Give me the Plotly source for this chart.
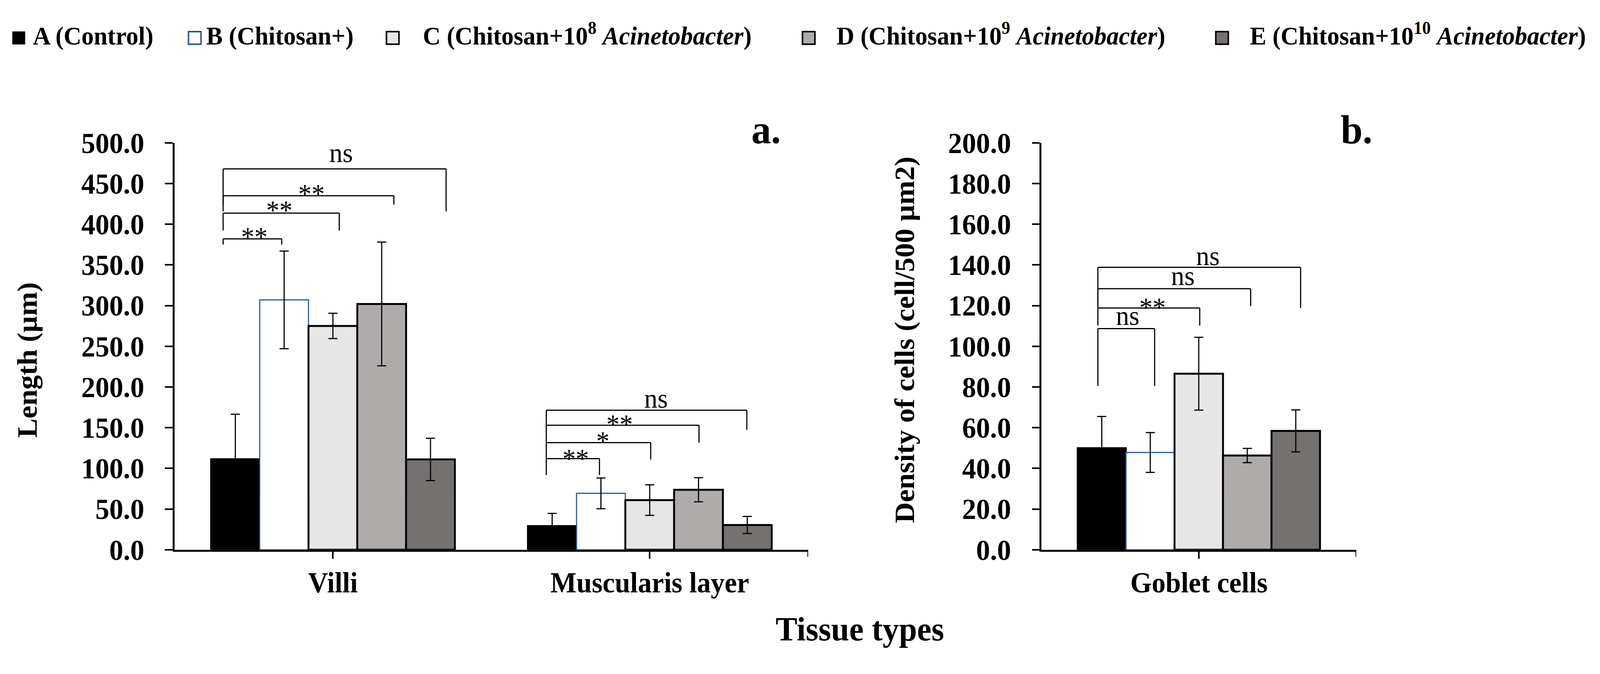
import plotly.graph_objects as go

W, H = 4227, 1726
FONT = "Liberation Serif"

# data
tissue_a = ["Villi", "Muscularis layer"]
tissue_b = ["Goblet cells"]
group_names = [
    "A (Control)",
    "B (Chitosan+)",
    "C (Chitosan+10<sup>8</sup> <i>Acinetobacter</i>)",
    "D (Chitosan+10<sup>9</sup> <i>Acinetobacter</i>)",
    "E (Chitosan+10<sup>10</sup> <i>Acinetobacter</i>)",
]
villi_mean = [111.5, 307.0, 275.0, 302.0, 111.0]
villi_err = [55.0, 60.0, 15.5, 76.0, 26.0]
musc_mean = [29.3, 69.3, 61.0, 73.7, 30.4]
musc_err = [15.3, 18.9, 18.8, 14.8, 10.5]
goblet_mean = [50.0, 47.8, 86.5, 46.3, 58.4]
goblet_err = [15.5, 9.8, 17.9, 3.5, 10.3]

villi_sig = ["**", "**", "**", "ns"]
musc_sig = ["**", "*", "**", "ns"]
goblet_sig = ["ns", "**", "ns", "ns"]

fills = ["#000000", "#FFFFFF", "#E7E6E6", "#AFABAB", "#767171"]
edges = ["#000000", "#2F5597", "#000000", "#000000", "#000000"]
edge_w = [4, 3, 5, 5, 5]

BARGAP = 0.23
BW = (1 - BARGAP) / 5

fig = go.Figure()
for i in range(5):
    common = dict(
        name=group_names[i],
        showlegend=False,
        marker=dict(color=fills[i], line=dict(color=edges[i], width=edge_w[i])),
    )
    fig.add_bar(
        x=tissue_a, y=[villi_mean[i], musc_mean[i]],
        error_y=dict(type="data", array=[villi_err[i], musc_err[i]],
                     color="black", thickness=3, width=12),
        xaxis="x", yaxis="y", **common)
    fig.add_bar(
        x=tissue_b, y=[goblet_mean[i]],
        error_y=dict(type="data", array=[goblet_err[i]],
                     color="black", thickness=3, width=12),
        xaxis="x2", yaxis="y2", **common)

shapes = []
annotations = []


def line(xr, yr, x0, y0, x1, y1, w=3):
    shapes.append(dict(type="line", xref=xr, yref=yr, x0=x0, y0=y0, x1=x1, y1=y1,
                       line=dict(color="black", width=w)))


def brackets(xr, yr, cat, left, rights, tops, feet, labels, text_x, text_y):
    for r, top, foot, lab, tx, ty in zip(rights, tops, feet, labels, text_x, text_y):
        xl, xrr = cat + left * BW, cat + r * BW
        line(xr, yr, xl, foot, xl, top)
        line(xr, yr, xl, top, xrr, top)
        line(xr, yr, xrr, top, xrr, foot)
        annotations.append(dict(
            xref=xr, yref=yr, x=cat + tx * BW, y=ty, text=lab, showarrow=False,
            xanchor="center", yanchor="middle",
            yshift=8 if lab == "ns" else -14,
            font=dict(family=FONT, size=70, color="black")))


brackets("x", "y", 0, -2.25, [-1.05, 0.13, 1.25, 2.32],
         [382, 413.6, 435, 468], [375, 392.4, 424, 415.8], villi_sig,
         [-1.61, -1.10, -0.44, 0.17], [391, 424, 444, 484])
brackets("x", "y", 1, -2.12, [-1.03, 0.02, 1.01, 1.99],
         [111.9, 131.6, 153.0, 171.4], [91.8, 110.8, 131.6, 147.4], musc_sig,
         [-1.52, -0.96, -0.62, 0.13], [118.5, 140.4, 161.1, 181.9])
brackets("x2", "y2", 0, -2.08, [-0.91, 0.02, 1.07, 2.10],
         [108.7, 118.8, 128.3, 138.8], [80.5, 110.2, 119.8, 118.8], goblet_sig,
         [-1.47, -0.95, -0.33, 0.19], [113.5, 121.8, 133, 142.9])

# end tick on each category axis
shapes.append(dict(type="line", xref="x", yref="y domain", x0=1.5, x1=1.5, y0=0, y1=-0.017,
                   line=dict(color="black", width=4)))
shapes.append(dict(type="line", xref="x2", yref="y2 domain", x0=0.5, x1=0.5, y0=0, y1=-0.017,
                   line=dict(color="black", width=4)))

# category names under the axes
for xr, cats in (("x", tissue_a), ("x2", tissue_b)):
    for c in cats:
        annotations.append(dict(xref=xr, yref="paper", x=c, y=1 - 1525 / H,
                                text="<b>" + c + "</b>", showarrow=False,
                                xanchor="center", yanchor="middle",
                                font=dict(family=FONT, size=73, color="black")))

# legend drawn by hand so the swatches are the same size as the original
leg_box_x = [33, 498, 1021, 2120, 3212]
leg_text_x = [85, 543, 1115, 2208, 3300]
for i in range(5):
    x0 = leg_box_x[i]
    shapes.append(dict(type="rect", xref="paper", yref="paper",
                       x0=x0 / W, x1=(x0 + 33) / W, y0=1 - 77 / H, y1=1 - 43 / H,
                       fillcolor=fills[i],
                       line=dict(color=edges[i], width=4 if i else 1)))
    # anchored at the bottom so the superscripts do not push the baseline down
    annotations.append(dict(xref="paper", yref="paper", x=leg_text_x[i] / W, y=1 - 94 / H,
                            text="<b>" + group_names[i] + "</b>", showarrow=False,
                            xanchor="left", yanchor="bottom",
                            font=dict(family=FONT, size=65, color="black")))

annotations += [
    dict(xref="paper", yref="paper", x=72 / W, y=1 - 926 / H, text="<b>Length (µm)</b>",
         textangle=-90, showarrow=False, xanchor="center", yanchor="middle",
         font=dict(family=FONT, size=74, color="black")),
    dict(xref="paper", yref="paper", x=2389 / W, y=1 - 872 / H,
         text="<b>Density of cells (cell/500 µm2)</b>",
         textangle=-90, showarrow=False, xanchor="center", yanchor="middle",
         font=dict(family=FONT, size=74, color="black")),
    dict(xref="paper", yref="paper", x=2271 / W, y=1 - 1649 / H, text="<b>Tissue types</b>",
         showarrow=False, xanchor="center", yanchor="middle",
         font=dict(family=FONT, size=86, color="black")),
    dict(xref="paper", yref="paper", x=1983 / W, y=1 - 306 / H, text="<b>a.</b>",
         xanchor="left", yanchor="middle", showarrow=False,
         font=dict(family=FONT, size=104, color="black")),
    dict(xref="paper", yref="paper", x=3540 / W, y=1 - 306 / H, text="<b>b.</b>",
         xanchor="left", yanchor="middle", showarrow=False,
         font=dict(family=FONT, size=104, color="black")),
]

bold = dict(family=FONT, color="black", weight="bold")
y_dom = [1 - 1436 / H, 1 - 342 / H]
axis_common = dict(showline=True, linecolor="black", linewidth=5, ticks="outside",
                   tickcolor="black", tickwidth=4, showgrid=False, zeroline=False)

fig.update_layout(
    width=W, height=H,
    margin=dict(l=0, r=0, t=0, b=0),
    paper_bgcolor="white", plot_bgcolor="white",
    barmode="group", bargap=BARGAP, bargroupgap=0,
    xaxis=dict(domain=[461 / W, 2135 / W], anchor="y", type="category",
               range=[-0.5, 1.5], ticklen=18, showticklabels=False, **axis_common),
    yaxis=dict(domain=y_dom, anchor="x", range=[0, 500], dtick=50, tickformat=".1f",
               ticklen=20, ticklabelstandoff=40, tickfont=dict(size=74, **bold),
               **axis_common),
    xaxis2=dict(domain=[2751 / W, 3583 / W], anchor="y2", type="category",
                range=[-0.5, 0.5], ticklen=18, showticklabels=False, **axis_common),
    yaxis2=dict(domain=y_dom, anchor="x2", range=[0, 200], dtick=20, tickformat=".1f",
                ticklen=20, ticklabelstandoff=40, tickfont=dict(size=74, **bold),
                **axis_common),
    shapes=shapes,
    annotations=annotations,
)

# drop the page margin and fit the fixed-size figure into whatever window opens it
fit_page = """
document.body.style.margin = '0px';
document.body.style.overflow = 'hidden';
var gd = document.getElementById('{plot_id}');
var sx = window.innerWidth / %d, sy = window.innerHeight / %d;
if (sx > 0.5 && sx < 2 && sy > 0.5 && sy < 2) {
    gd.style.transformOrigin = '0 0';
    gd.style.transform = 'scale(' + sx + ',' + sy + ')';
}
""" % (W, H)

fig.write_html("out.html", post_script=fit_page, config={"displayModeBar": False})
